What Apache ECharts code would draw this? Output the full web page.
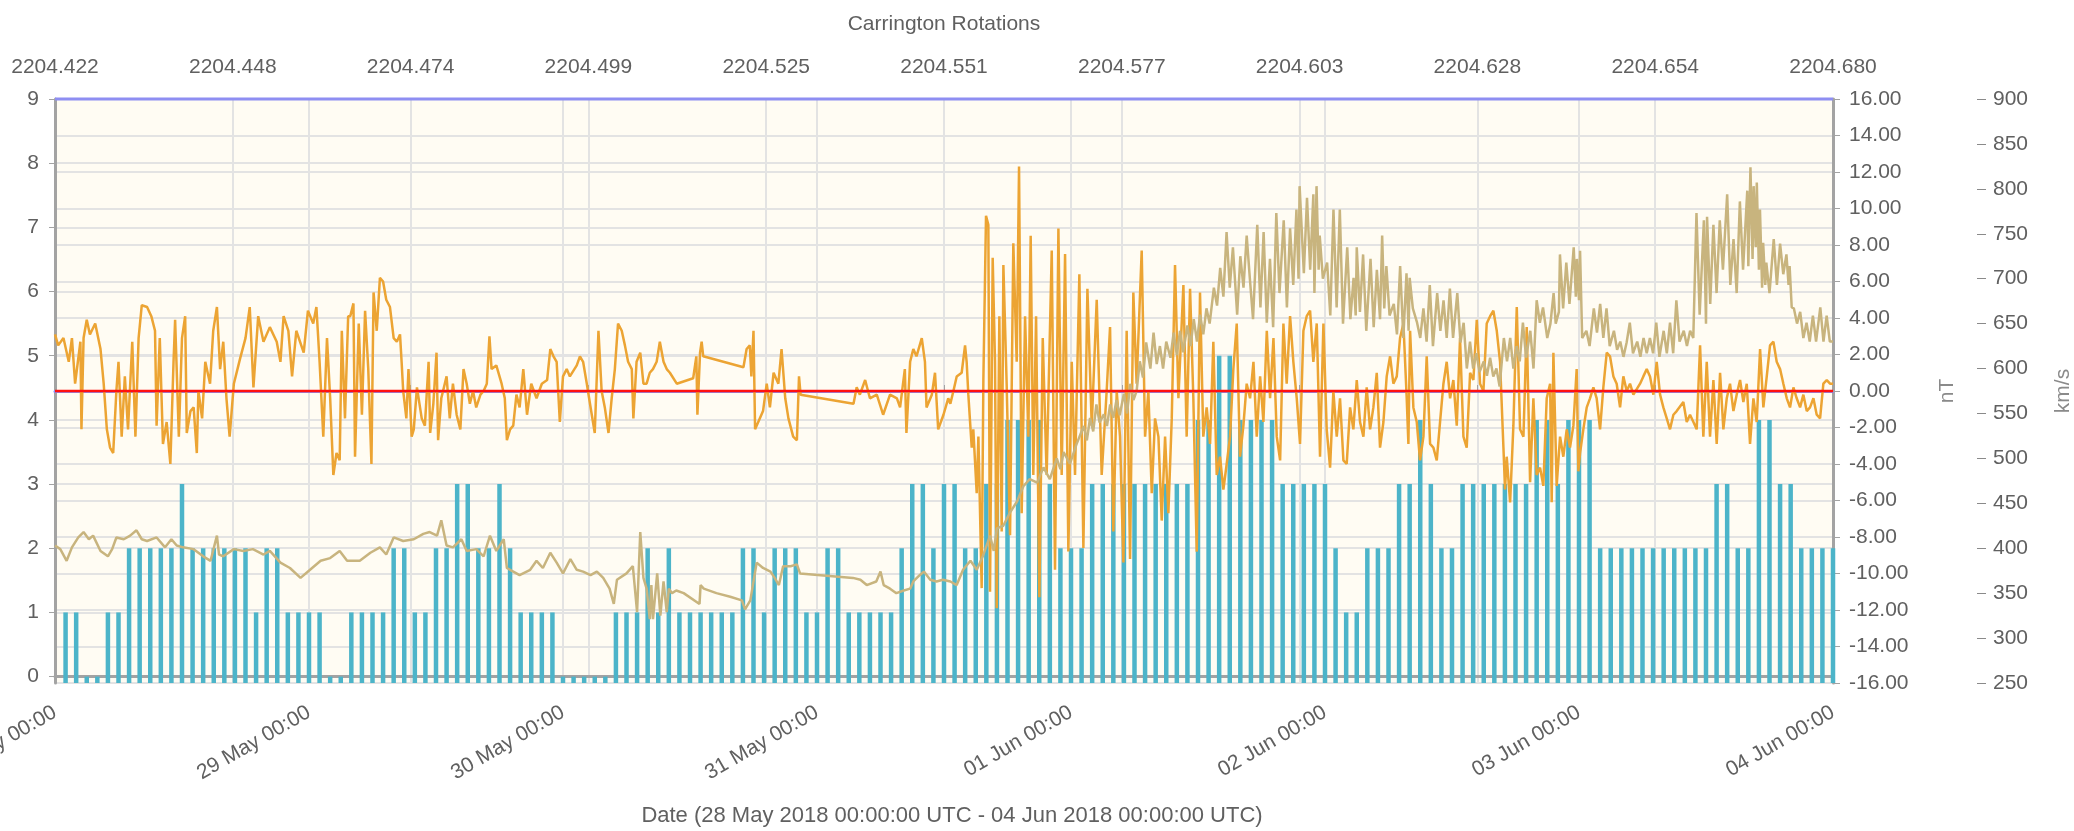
<!DOCTYPE html>
<html>
<head>
<meta charset="utf-8">
<title>Kp / Bz / solar wind speed</title>
<script src="https://cdn.jsdelivr.net/npm/echarts@6.0.0/dist/echarts.min.js"></script>
<style>
  html, body { margin: 0; padding: 0; background: #ffffff; }
  #chart { width: 2074px; height: 831px; }
</style>
</head>
<body>
<div id="chart"></div>
<script>
// hourly Kp, first bar at 28 May 01:00 UTC, last at 04 Jun 00:00 UTC
var kpValues = [
  1,1,0,0,1,1,2,2,2,2, 2,3,2,2,2,2,2,2,1,2, 2,1,1,1,1,0,0,1,1,1,
  1,2,2,1,1,2,2,3,3,2, 2,3,2,1,1,1,1,0,0,0, 0,0,1,1,1,2,1,2,1,1,
  1,1,1,1,2,2,1,2,2,2, 1,1,2,2,1,1,1,1,1,2, 3,3,2,3,3,2,2,3,3,4,
  4,4,4,3,2,2,2,3,3,3, 3,3,3,3,3,3,3,4,4,5, 5,4,4,4,4,3,3,3,3,3,
  2,1,1,2,2,2,3,3,4,3, 2,2,3,3,3,3,3,3,3,4, 4,3,4,4,4,2,2,2,2,2,
  2,2,2,2,2,2,3,3,2,2, 4,4,3,3,2,2,2,2
];

// Bz (nT): [hours since 28 May 00:00 UTC, value]
var bzPoints = [
  [0,3.1],[0.3,2.5],[0.8,2.9],[1.3,1.6],[1.6,2.9],[1.9,0.4],[2.4,2.7],[2.5,-2.1],[2.7,2.9],[3.0,3.9],
  [3.3,3.1],[3.8,3.7],[4.3,2.3],[4.6,0.4],[4.9,-2.1],[5.2,-3.1],[5.5,-3.4],[5.8,0],[6.0,1.6],[6.3,-2.5],
  [6.6,0.8],[6.9,-2.1],[7.3,2.7],[7.6,-2.5],[7.9,2.9],[8.2,4.7],[8.7,4.6],[9.1,4.1],[9.45,3.3],[9.6,-1.9],
  [9.9,2.9],[10.2,-2.9],[10.55,-1.7],[10.9,-4.0],[11.2,1.6],[11.35,3.9],[11.7,-2.5],[12.0,2.9],[12.3,4.1],[12.45,-2.3],
  [12.8,-1.1],[13.1,-0.9],[13.4,-3.4],[13.55,0],[13.9,-1.5],[14.2,1.6],[14.65,0.4],[14.95,3.3],[15.3,4.6],[15.6,1.2],
  [15.9,2.7],[16.2,-0.4],[16.5,-2.5],[16.9,0.4],[17.5,1.8],[18.0,2.9],[18.4,4.6],[18.75,0.2],[19.2,4.1],[19.7,2.7],
  [20.3,3.5],[20.95,2.7],[21.3,1.6],[21.6,4.1],[22.05,3.3],[22.4,0.8],[22.8,3.3],[23.5,2.1],[23.9,4.4],[24.4,3.7],
  [24.7,4.6],[25.0,1.6],[25.35,-2.5],[25.7,2.9],[26.0,-0.4],[26.3,-4.6],[26.6,-3.4],[26.9,-3.8],[27.1,3.3],[27.4,-1.5],
  [27.7,4.1],[27.9,4.1],[28.2,4.8],[28.35,-3.6],[28.7,3.7],[29.0,-1.3],[29.3,4.4],[29.6,1.2],[29.9,-4.0],[30.1,5.4],
  [30.4,3.3],[30.7,6.2],[31.0,6.0],[31.3,5.0],[31.65,4.6],[32.0,2.9],[32.3,2.7],[32.6,3.1],[32.75,1.6],[32.9,0],
  [33.2,-1.5],[33.4,1.2],[33.7,-2.5],[33.9,-2.1],[34.2,0.2],[34.65,-1.5],[34.95,-1.9],[35.3,1.6],[35.45,-2.3],[35.75,-0.7],
  [36.05,2.1],[36.2,-2.7],[36.5,-0.4],[37.0,0.8],[37.3,-1.5],[37.6,0.4],[37.95,-1.3],[38.3,-2.1],[38.6,1.2],[38.9,0.4],
  [39.2,-0.7],[39.5,0],[39.8,-0.9],[40.2,-0.2],[40.5,0],[40.8,0.4],[41.05,3.0],[41.25,1.2],[41.7,1.4],[42.2,0.4],
  [42.5,-0.4],[42.7,-2.7],[43.0,-2.1],[43.3,-1.9],[43.6,-0.2],[43.9,-0.9],[44.25,1.2],[44.6,-1.3],[45.0,0.4],[45.5,-0.4],
  [46.0,0.4],[46.5,0.6],[46.8,2.3],[47.1,1.9],[47.4,1.6],[47.7,-1.7],[48.0,0.8],[48.35,1.2],[48.65,0.8],[49.3,1.4],
  [49.6,1.9],[49.9,1.6],[50.25,0.4],[50.55,-0.7],[51.0,-2.3],[51.35,3.3],[51.65,0],[51.95,-0.9],[52.3,-2.3],[52.6,-0.4],
  [52.9,1.2],[53.2,3.7],[53.55,3.3],[53.85,2.5],[54.15,1.6],[54.5,1.2],[54.65,-1.5],[54.95,1.6],[55.3,2.1],[55.6,0.4],
  [55.9,0.4],[56.2,1.0],[56.5,1.2],[56.85,1.6],[57.15,2.7],[57.5,1.6],[57.8,1.2],[58.1,1.0],[58.75,0.4],[60.3,0.7],
  [60.6,1.9],[60.7,-1.3],[60.95,2.1],[61.1,2.7],[61.25,1.9],[65.05,1.3],[65.35,2.3],[65.65,2.5],[65.8,0.8],[66.0,3.3],
  [66.15,-2.1],[66.45,-1.7],[66.9,-1.1],[67.25,0.4],[67.55,-0.9],[67.9,1.0],[68.35,0.4],[68.65,2.3],[69.0,-0.4],[69.3,-1.5],
  [69.75,-2.5],[70.1,-2.7],[70.3,0.8],[70.45,-0.2],[75.45,-0.7],[75.75,0.2],[76.05,-0.2],[76.55,0.6],[77.0,-0.4],[77.65,-0.2],
  [78.25,-1.3],[78.9,-0.2],[79.55,-0.4],[79.85,-0.9],[80.3,1.2],[80.45,-2.3],[80.8,1.6],[81.1,2.3],[81.4,1.9],[81.9,2.9],
  [82.2,1.6],[82.35,-0.9],[82.85,-0.2],[83.15,1.0],[83.45,-2.1],[83.95,-1.3],[84.4,-0.4],[84.6,-0.7],
  [84.89,0],[85.2,0.8],[85.67,1.0],[85.99,2.5],[86.14,1.6],[86.3,-0.2],[86.62,-3.1],[86.77,-2.1],[87.09,-5.6],[87.25,-2.5],
  [87.56,-10.8],[87.72,0.6],[87.97,9.6],[88.19,9.1],[88.35,-11.0],[88.6,7.3],[88.82,1.6],[88.98,-11.9],[89.23,4.1],[89.45,-7.7],
  [89.61,6.9],[89.92,0.4],[90.24,-7.9],[90.55,8.1],[90.87,1.6],[91.09,12.3],[91.34,-6.7],[91.66,4.1],[91.97,-2.5],[92.19,8.5],
  [92.44,-4.6],[92.7,4.1],[93.01,-11.3],[93.33,2.9],[93.7,-4.6],[94.18,7.7],[94.49,-9.8],[94.81,8.9],[95.12,-4.6],[95.44,7.5],
  [95.75,-8.8],[96.07,1.6],[96.38,-4.6],[96.79,6.4],[97.17,-8.6],[97.55,5.6],[97.96,-1.9],[98.43,5.0],[98.9,-4.6],[99.37,0],
  [99.69,3.5],[100.0,-7.7],[100.32,0],[100.63,-2.5],[100.95,-9.4],[101.26,3.3],[101.58,-9.2],[101.89,5.4],[102.2,0.4],[102.68,7.7],
  [103.0,-2.5],[103.31,0],[103.63,-5.6],[103.94,-1.5],[104.26,-2.5],[104.57,-7.1],[104.89,-2.5],[105.2,-6.7],[105.52,-1.5],[105.83,6.9],
  [106.15,-0.4],[106.62,5.8],[106.93,-2.5],[107.25,5.6],[107.56,-0.4],[107.88,-8.8],[108.19,5.4],[108.5,-2.5],[108.82,-0.9],[109.14,-2.9],
  [109.45,2.7],[109.77,-4.6],[110.08,-3.6],[110.4,-5.4],[110.71,-4.0],[111.03,-2.5],[111.34,1.2],[111.66,3.7],[111.97,-3.6],[112.29,-1.9],
  [112.6,0.4],[112.92,-0.4],
  [113.24,1.6],[113.55,-2.5],[113.87,0.8],[114.18,-1.7],[114.5,3.3],[114.81,-0.4],[115.13,2.9],[115.44,-2.5],[115.76,-3.8],[116.07,3.7],
  [116.38,0.4],[116.7,4.1],[117.01,1.6],[117.33,-0.4],[117.64,-2.9],[117.96,3.3],[118.27,4.1],[118.59,4.4],[118.9,1.6],[119.22,3.7],
  [119.53,-3.6],[119.85,3.7],[120.16,-2.1],[120.48,-4.2],[120.79,0],[121.11,-2.5],[121.42,-0.4],[121.74,-3.8],[122.05,-4.0],[122.37,-0.9],
  [122.68,-2.1],[123.0,0.6],[123.31,-1.7],[123.63,-2.5],[123.94,0.2],[124.26,-2.1],[124.57,-0.9],[124.89,1.0],[125.2,-3.1],[125.52,-1.7],
  [125.83,0.8],[126.15,1.9],[126.46,0.4],[126.78,0.8],[127.09,2.9],[127.41,3.7],[127.72,-0.4],[127.88,-2.9],[128.04,3.3],[128.35,-0.9],
  [128.67,-1.7],[128.98,-3.8],[129.3,-2.5],[129.61,1.9],[129.93,-2.9],[130.24,-3.1],[130.56,-3.8],[130.87,-1.7],[131.19,0.4],[131.5,1.6],
  [131.82,-0.4],[132.13,0.6],[132.45,-1.9],[132.76,2.9],[133.08,-2.5],[133.39,-3.1],[133.71,1.0],[134.02,0.6],[134.34,3.9],[134.65,0.4],
  [134.97,0],[135.28,3.7],[135.6,4.1],[135.91,4.4],[136.23,3.3],[136.54,1.6],[136.86,-3.1],[137.01,-5.4],[137.17,-3.6],[137.49,-6.1],
  [137.8,-1.9],[138.12,4.6],[138.43,-2.1],[138.75,-2.5],[139.06,3.5],[139.38,-5.0],[139.69,-0.4],[140.0,-4.6],[140.32,-4.2],[140.63,-5.2],
  [140.95,-0.4],[141.27,0.4],
  [141.42,-6.1],[141.58,2.1],[141.89,-5.2],[142.21,-2.5],[142.52,-3.6],[142.84,-2.1],[143.15,-3.1],[143.47,-1.9],[143.78,1.2],[143.94,-4.4],
  [144.1,-3.4],[144.41,-2.1],[144.73,-0.9],[145.04,-0.4],[145.36,0.2],[145.67,-0.4],[145.99,-2.1],[146.3,0.2],[146.62,2.1],[146.93,1.9],
  [147.25,0.8],[147.56,0.4],[147.88,-0.9],[148.19,0.8],[148.51,0],[148.82,0.4],[149.14,-0.2],[149.77,0.4],[150.08,0.8],[150.4,1.2],
  [150.71,0.8],[151.03,-0.2],[151.34,1.6],[151.66,-0.2],[151.97,-0.9],[152.29,-1.5],[152.6,-2.1],[152.92,-1.3],[153.23,-1.1],[153.86,-0.6],
  [154.18,-1.7],[154.49,-1.3],[154.81,-1.7],[155.12,-2.1],[155.44,2.5],[155.75,-2.5],[156.07,1.6],[156.38,-2.5],[156.7,0.6],[157.01,-2.9],
  [157.33,1.0],[157.64,-2.1],[157.96,-0.4],[158.27,0.4],[158.59,-1.1],[158.9,-0.2],[159.22,0.6],[159.53,-0.6],[159.85,0.4],[160.16,-2.9],
  [160.48,-0.4],[160.79,-1.7],[161.11,2.3],[161.42,-0.9],[161.74,0.8],[162.05,2.5],[162.37,2.7],[162.68,1.6],[163.0,1.2],[163.31,0.4],
  [163.63,-0.4],[163.94,-0.9],[164.26,0.2],[164.57,-0.4],[164.89,-0.9],[165.2,-0.2],[165.52,-1.1],[165.83,-0.9],[166.15,-0.4],[166.46,-1.3],
  [166.78,-1.5],[167.09,0.4],[167.41,0.6],[167.72,0.4],[168,0.4]
];

// solar wind speed (km/s): [hours since 28 May 00:00 UTC, value]
var speedPoints = [
  [0,403],[0.5,399],[1.1,386],[1.6,401],[2.2,412],[2.7,418],[3.2,410],[3.6,414],[4.3,397],[5.0,391],
  [5.4,399],[5.8,412],[6.5,410],[7.1,414],[7.7,420],[8.2,410],[8.7,408],[9.6,412],[10.4,401],[11.0,410],
  [11.5,403],[12.1,401],[13.1,399],[14.0,391],[14.7,386],[15.3,414],[15.5,393],[15.9,391],[16.9,399],[17.8,397],
  [18.7,399],[19.7,393],[20.3,397],[21.3,384],[22.2,378],[23.2,367],[24.1,376],[25.1,386],[26.0,389],[26.9,397],
  [27.6,386],[28.8,386],[29.8,395],[30.7,401],[31.3,393],[32.0,412],[32.9,408],[33.9,410],[34.8,416],[35.4,418],
  [36.1,414],[36.5,431],[37.0,403],[37.6,401],[38.4,410],[38.9,397],[39.8,399],[40.5,391],[41.1,414],[41.7,397],
  [42.4,410],[42.7,378],[43.3,374],[43.9,370],[44.9,376],[45.5,386],[46.1,378],[46.8,395],[47.4,384],[48.0,372],
  [48.7,388],[49.3,376],[49.9,374],[50.6,370],[51.2,374],[51.8,367],[52.4,355],[52.8,338],[53.1,365],[54.0,372],
  [54.6,380],[55.0,329],[55.3,418],[55.6,367],[55.9,355],[56.2,321],[56.35,359],[56.5,321],[56.9,372],[57.2,325],
  [57.5,363],[57.8,329],[58.0,355],[58.3,350],[58.7,353],[59.4,350],[60.9,338],[61.0,359],[61.3,355],[62.5,350],
  [63.8,346],[64.9,342],[65.2,332],[65.7,342],[66.3,384],[66.9,378],[67.6,374],[68.0,367],[68.4,359],[68.8,380],
  [69.5,380],[70.1,382],[70.4,372],[75.4,367],[76.1,365],[76.7,359],[77.6,363],[78.0,374],[78.3,359],[78.9,355],
  [79.5,350],[80.2,353],[80.8,355],[81.1,363],[81.7,370],[82.1,374],[82.7,365],[83.3,363],[83.9,365],[84.6,363],
  [85.2,359],[85.8,376],[86.5,386],[87.1,376],[87.7,392],[88.35,414],[88.7,397],[89.0,422],[89.6,425],[90.2,439],
  [90.9,452],[91.5,469],[92.1,477],[92.8,473],[93.4,490],[94.0,477],[94.65,500],[95.0,488],[95.3,507],[95.9,494],
  [96.5,515],[97.2,536],[97.5,520],[97.8,545],[98.1,530],[98.4,560],[98.7,540],[99.1,549],[99.4,536],[99.7,560],
  [100.0,545],[100.3,565],[100.6,548],[101.0,572],[101.3,550],[101.6,583],[101.9,565],[102.2,575],[102.5,608],[102.8,590],
  [103.1,629],[103.5,600],[103.8,640],[104.1,605],[104.4,625],[104.7,600],[105.0,630],[105.4,612],[105.7,640],[106.0,615],
  [106.3,642],[106.6,618],[107.0,648],[107.3,625],[107.6,655],[107.9,630],[108.2,660],[108.5,638],[108.8,667],[109.1,650],
  [109.5,690],[109.8,670],[110.1,712],[110.4,680],[110.7,752],[111.0,690],[111.3,735],[111.7,660],[112.0,725],[112.3,690],
  [112.6,748],[112.9,700],[113.2,655],[113.6,760],[113.9,668],[114.2,752],[114.5,651],[114.8,722],[115.1,646],[115.4,773],
  [115.7,684],[116.1,765],[116.4,668],[116.7,756],[117.0,693],[117.3,777],[117.5,700],[117.6,803],[118.0,706],[118.3,790],
  [118.6,710],[118.9,794],[119.0,684],[119.2,803],[119.4,710],[119.5,748],[119.8,700],[120.2,718],[120.5,659],[120.8,777],
  [121.1,668],[121.4,777],[121.7,650],[122.1,735],[122.4,655],[122.7,701],[122.9,659],[123.0,735],[123.3,663],[123.6,727],
  [123.9,642],[124.3,722],[124.6,646],[124.9,710],[125.2,655],[125.4,748],[125.6,667],[125.8,714],[126.1,659],[126.5,672],
  [126.8,638],[127.1,714],[127.4,634],[127.7,706],[127.9,642],[128.0,701],[128.3,667],[128.7,651],[129.0,634],[129.3,667],
  [129.6,630],[129.9,693],[130.2,625],[130.6,684],[130.9,642],[131.2,676],[131.5,634],[131.8,689],[132.1,634],[132.5,684],
  [132.8,629],[133.1,651],[133.4,600],[133.7,630],[134.0,600],[134.3,617],[134.6,596],[135.0,608],[135.3,592],[135.6,612],
  [135.9,591],[136.2,600],[136.5,580],[136.9,634],[137.2,608],[137.5,634],[137.8,600],[138.1,625],[138.4,608],[138.7,651],
  [139.0,612],[139.4,642],[139.7,600],[140.0,676],[140.3,651],[140.6,668],[141.0,634],[141.3,650],[141.6,684],[141.8,650],
  [142.1,663],[142.2,727],[142.5,667],[142.8,718],[143.1,672],[143.5,735],[143.7,680],[143.8,722],[144.0,676],[144.1,731],
  [144.3,634],[144.7,642],[145.0,625],[145.4,667],[145.7,640],[146.0,672],[146.3,634],[146.6,667],[146.9,625],[147.3,642],
  [147.6,621],[147.9,630],[148.2,613],[148.5,629],[148.8,651],[149.1,617],[149.5,630],[149.8,613],[150.1,634],[150.4,617],
  [150.7,634],[151.0,617],[151.3,651],[151.6,613],[152.0,642],[152.3,617],[152.6,651],[152.9,617],[153.2,676],[153.5,630],
  [153.9,642],[154.2,625],[154.5,642],[154.8,634],[155.1,773],[155.4,660],[155.8,765],[156.0,650],[156.1,769],[156.4,672],
  [156.7,760],[157.0,684],[157.3,765],[157.6,710],[158.0,794],[158.3,693],[158.6,744],[158.9,684],[159.2,786],[159.5,710],
  [159.9,798],[160.0,714],[160.2,824],[160.4,722],[160.5,803],[160.7,735],[160.8,807],[161.0,710],[161.1,777],[161.3,690],
  [161.4,740],[161.6,693],[161.7,718],[162.0,684],[162.4,744],[162.7,693],[163.0,739],[163.3,705],[163.6,727],[163.8,693],
  [163.9,714],[164.1,668],[164.3,667],[164.6,650],[164.9,663],[165.2,634],[165.5,651],[165.8,630],[166.1,659],[166.4,630],
  [166.8,668],[167.1,630],[167.4,659],[167.7,630],[168.0,630]
];

var carrStart = 2204.422;
var carrEnd = 2204.680;
var carrStep = 0.0258;

var bzMin = -16, bzMax = 16, bzZero = 0;

var startMs = Date.UTC(2018, 4, 28);
var endMs = Date.UTC(2018, 5, 4);
var hourMs = 3600 * 1000;
var months = ['Jan','Feb','Mar','Apr','May','Jun','Jul','Aug','Sep','Oct','Nov','Dec'];

function pad(n) { return (n < 10 ? '0' : '') + n; }
function fmtDate(v) {
  var d = new Date(v);
  return pad(d.getUTCDate()) + ' ' + months[d.getUTCMonth()] + ' ' + pad(d.getUTCHours()) + ':' + pad(d.getUTCMinutes());
}
function toSeries(points) {
  return points.map(function (p) { return [startMs + p[0] * hourMs, p[1]]; });
}
// a flat line across the whole time range, at one nT level
function levelLine(level, color, width) {
  return {
    type: 'line', xAxisIndex: 0, yAxisIndex: 1,
    symbol: 'none', silent: true, clip: false, z: 10,
    lineStyle: { color: color, width: width, opacity: 1 },
    data: [[startMs, level], [endMs, level]]
  };
}

var kpData = kpValues.map(function (v, i) { return [startMs + (i + 1) * hourMs, v]; });

var font = 'Liberation Sans';
var labelColor = '#606060';
var axisGray = '#a3a3a3';
var gridGray = '#e3e3e3';

var option = {
  animation: false,
  backgroundColor: '#ffffff',
  textStyle: { fontFamily: font },
  grid: {
    left: 55, right: 241, top: 99, bottom: 148,
    containLabel: false, outerBoundsMode: 'none',
    show: true, backgroundColor: '#fffcf3', borderWidth: 0
  },
  xAxis: [
    {
      type: 'value', position: 'bottom',
      min: startMs, max: endMs, interval: 24 * hourMs,
      name: 'Date (28 May 2018 00:00:00 UTC - 04 Jun 2018 00:00:00 UTC)',
      nameLocation: 'middle', nameGap: 122,
      nameTextStyle: { color: labelColor, fontSize: 22, fontFamily: font, padding: [0, 0, 0, 16] },
      axisLine: { lineStyle: { color: axisGray, width: 3 } },
      axisTick: { length: 6, lineStyle: { color: axisGray, width: 1 } },
      axisLabel: { rotate: 30, margin: 28, color: labelColor, fontSize: 21, fontFamily: font, formatter: fmtDate },
      splitLine: { show: true, lineStyle: { color: gridGray, width: 2 } }
    },
    {
      type: 'value', position: 'top',
      min: carrStart, max: carrEnd, interval: carrStep,
      name: 'Carrington Rotations',
      nameLocation: 'middle', nameGap: 64,
      nameTextStyle: { color: labelColor, fontSize: 21, fontFamily: font },
      axisLine: { lineStyle: { color: '#8e8ef2', width: 3 } },
      axisTick: { length: 6, lineStyle: { color: axisGray, width: 1 } },
      axisLabel: { margin: 21, color: labelColor, fontSize: 21, fontFamily: font,
        formatter: function (v) { return v.toFixed(3); } },
      splitLine: { show: true, lineStyle: { color: gridGray, width: 2 } }
    }
  ],
  yAxis: [
    {
      type: 'value', position: 'left',
      min: -0.1, max: 9, minInterval: 1, maxInterval: 1, startValue: -0.1,
      axisLine: { show: true, lineStyle: { color: axisGray, width: 3 } },
      axisTick: { show: true, length: 6, lineStyle: { color: axisGray } },
      axisLabel: { margin: 16, showMinLabel: false, color: labelColor, fontSize: 21, fontFamily: font,
        formatter: function (v) { return String(Math.round(v)); } },
      splitLine: { show: true, lineStyle: { color: gridGray, width: 2 } }
    },
    {
      type: 'value', position: 'right',
      min: bzMin, max: bzMax, interval: 2,
      name: 'nT', nameLocation: 'middle', nameGap: 104,
      nameTextStyle: { color: '#8a8a8a', fontSize: 21, fontFamily: font },
      axisLine: { show: true, lineStyle: { color: axisGray, width: 3 } },
      axisTick: { show: true, length: 7, lineStyle: { color: axisGray } },
      axisLabel: { margin: 16, color: labelColor, fontSize: 21, fontFamily: font,
        formatter: function (v) { return v.toFixed(2); } },
      splitLine: { show: true, lineStyle: { color: gridGray, width: 2 } }
    },
    {
      type: 'value', position: 'right', offset: 144,
      min: 250, max: 900, interval: 50,
      name: 'km/s', nameLocation: 'middle', nameGap: 76,
      nameTextStyle: { color: '#8a8a8a', fontSize: 21, fontFamily: font },
      axisLine: { show: false },
      axisTick: { show: true, length: 9, lineStyle: { color: '#8a8a8a' } },
      axisLabel: { margin: 16, color: labelColor, fontSize: 21, fontFamily: font },
      splitLine: { show: false }
    }
  ],
  series: [
    {
      name: 'Kp', type: 'bar', xAxisIndex: 0, yAxisIndex: 0,
      barWidth: 4.5, z: 1,
      itemStyle: { color: '#4cb4c9' },
      data: kpData
    },
    {
      name: 'Bz', type: 'line', xAxisIndex: 0, yAxisIndex: 1,
      symbol: 'none', z: 2,
      lineStyle: { color: '#eca433', width: 2.5 },
      data: toSeries(bzPoints)
    },
    {
      name: 'Speed', type: 'line', xAxisIndex: 0, yAxisIndex: 2,
      symbol: 'none', z: 3,
      lineStyle: { color: '#c8b47e', width: 2.5 },
      data: toSeries(speedPoints)
    },
    levelLine(bzZero, '#ff1010', 2.5),
    levelLine(bzMax, '#8e8ef2', 3)
  ]
};

var myChart = echarts.init(document.getElementById('chart'));
myChart.setOption(option);
</script>
</body>
</html>
